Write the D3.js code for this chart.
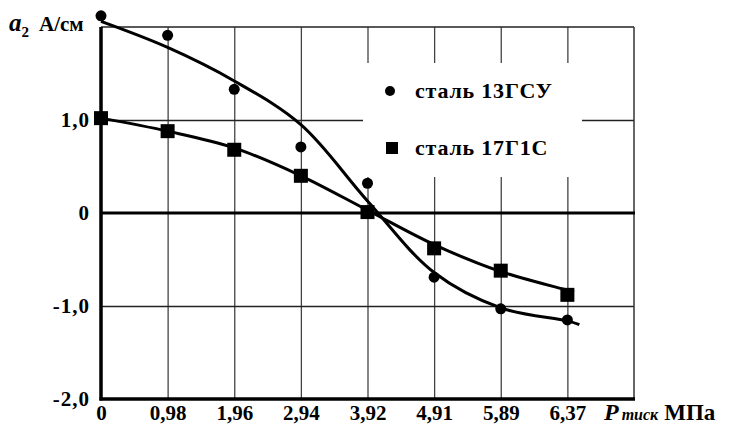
<!DOCTYPE html>
<html>
<head>
<meta charset="utf-8">
<script src="https://cdn.jsdelivr.net/npm/d3@7"></script>
<style>
  body { margin: 0; background: #fff; }
</style>
</head>
<body>
<svg id="chart" width="731" height="426"></svg>
<script>
const pressures = ['0', '0,98', '1,96', '2,94', '3,92', '4,91', '5,89', '6,37'];
const yTicks = [1, 0, -1, -2];
const yTickLabels = ['1,0', '0', '-1,0', '-2,0'];

// measured points
const steel13 = [2.12, 1.91, 1.33, 0.71, 0.32, -0.69, -1.03, -1.15];
const steel17 = [1.02, 0.88, 0.68, 0.40, 0.01, -0.38, -0.62, -0.88];

// fitted curves (position along the pressure axis, value)
const fit13X = [0, 1, 2, 3, 4, 5, 6, 7, 7.18];
const fit13Y = [2.06, 1.78, 1.42, 0.95, 0.13, -0.64, -1.02, -1.16, -1.20];
const fit17X = [0, 1, 2, 3, 4, 5, 6, 7, 7.1];
const fit17Y = [1.02, 0.88, 0.70, 0.40, 0.03, -0.34, -0.63, -0.83, -0.85];

const legendLabels = ['сталь 13ГСУ', 'сталь 17Г1С'];

const serif = '"Liberation Serif", "DejaVu Serif", serif';

const svgWidth = 731;
const svgHeight = 426;
const margin = { top: 27, right: 97, bottom: 27, left: 101 };
const width = svgWidth - margin.left - margin.right;
const height = svgHeight - margin.top - margin.bottom;

const svg = d3.select('#chart');
const g = svg.append('g').attr('transform', `translate(${margin.left}, ${margin.top})`);

const xScale = d3.scaleLinear().domain([0, pressures.length]).range([0, width]);
const yScale = d3.scaleLinear().domain([-2, 2]).range([height, 0]);

// grid
const xGrid = g.append('g')
  .attr('transform', `translate(0, ${height})`)
  .call(d3.axisBottom(xScale).tickValues(d3.range(1, pressures.length)).tickSize(-height).tickFormat(''));
xGrid.select('.domain').remove();
xGrid.selectAll('line').attr('stroke', '#444').attr('stroke-width', 1.3);

const yGrid = g.append('g')
  .call(d3.axisLeft(yScale).tickValues([1, -1]).tickSize(-width).tickFormat(''));
yGrid.select('.domain').remove();
yGrid.selectAll('line').attr('stroke', '#222').attr('stroke-width', 1.3);

// frame: thin top/right, thick left/bottom/zero
g.append('line').attr('x1', 0).attr('x2', width).attr('y1', 0).attr('y2', 0)
  .attr('stroke', '#222').attr('stroke-width', 1.5);
g.append('line').attr('x1', width).attr('x2', width).attr('y1', 0).attr('y2', height)
  .attr('stroke', '#333').attr('stroke-width', 1.5);

// legend background cuts the grid
g.append('rect').attr('x', 262).attr('y', 36).attr('width', 219).attr('height', 114).attr('fill', '#fff');

g.append('line').attr('x1', 0).attr('x2', width + 1).attr('y1', yScale(0)).attr('y2', yScale(0))
  .attr('stroke', '#000').attr('stroke-width', 3);
g.append('line').attr('x1', 0).attr('x2', 0).attr('y1', 0).attr('y2', height + 1.5)
  .attr('stroke', '#000').attr('stroke-width', 3.5);
g.append('line').attr('x1', -1.5).attr('x2', width + 1).attr('y1', height).attr('y2', height)
  .attr('stroke', '#000').attr('stroke-width', 3.5);

// axes labels
const yAxis = g.append('g')
  .call(d3.axisLeft(yScale).tickValues(yTicks).tickSize(0).tickPadding(11)
    .tickFormat((d, i) => yTickLabels[i]));
yAxis.select('.domain').remove();
yAxis.selectAll('text')
  .style('font-family', serif).style('font-weight', 'bold').style('font-size', '21px')
  .style('letter-spacing', '1px');

const xAxis = g.append('g')
  .attr('transform', `translate(0, ${height})`)
  .call(d3.axisBottom(xScale).tickValues(d3.range(pressures.length)).tickSize(0).tickPadding(6)
    .tickFormat((d) => pressures[d]));
xAxis.select('.domain').remove();
xAxis.selectAll('text')
  .style('font-family', serif).style('font-weight', 'bold').style('font-size', '21px');

// fitted curves
const line = d3.line()
  .x((d) => xScale(d[0]))
  .y((d) => yScale(d[1]))
  .curve(d3.curveCatmullRom.alpha(0.5));

g.append('path').datum(d3.zip(fit13X, fit13Y)).attr('d', line)
  .attr('fill', 'none').attr('stroke', '#000').attr('stroke-width', 3);
g.append('path').datum(d3.zip(fit17X, fit17Y)).attr('d', line)
  .attr('fill', 'none').attr('stroke', '#000').attr('stroke-width', 3);

// markers
g.selectAll('.dot').data(steel13).join('circle')
  .attr('class', 'dot')
  .attr('cx', (d, i) => xScale(i))
  .attr('cy', (d) => yScale(d))
  .attr('r', 5.5)
  .attr('fill', '#000');

const sq = 14;
g.selectAll('.sq').data(steel17).join('rect')
  .attr('class', 'sq')
  .attr('x', (d, i) => xScale(i) - sq / 2)
  .attr('y', (d) => yScale(d) - sq / 2)
  .attr('width', sq)
  .attr('height', sq)
  .attr('fill', '#000');

// legend
const legend = svg.append('g').attr('transform', 'translate(390, 91)');
legend.append('circle').attr('cx', 0).attr('cy', 0).attr('r', 5).attr('fill', '#000');
legend.append('rect').attr('x', -4).attr('y', 51).attr('width', 12).attr('height', 12).attr('fill', '#000');
legend.selectAll('.lbl').data(legendLabels).join('text')
  .attr('class', 'lbl')
  .attr('x', 25)
  .attr('y', (d, i) => 7 + i * 57)
  .style('font-family', serif).style('font-weight', 'bold').style('font-size', '22px')
  .style('letter-spacing', '0.8px')
  .text((d) => d);

// axis titles
const yTitle = svg.append('text').attr('x', 9).attr('y', 31)
  .style('font-family', serif).style('font-weight', 'bold');
yTitle.append('tspan').style('font-style', 'italic').style('font-size', '25px').text('a');
yTitle.append('tspan').attr('dy', 6).style('font-size', '15px').text('2');
yTitle.append('tspan').attr('dy', -6).attr('dx', 10).style('font-size', '21px').text('А/см');

const xTitle = svg.append('text').attr('x', 604).attr('y', 420)
  .style('font-family', serif).style('font-weight', 'bold');
xTitle.append('tspan').style('font-style', 'italic').style('font-size', '24px').text('P');
xTitle.append('tspan').attr('dx', 3).style('font-style', 'italic').style('font-size', '16px').text('тиск');
xTitle.append('tspan').attr('dx', 6).style('font-size', '23px').text('МПа');
</script>
</body>
</html>
